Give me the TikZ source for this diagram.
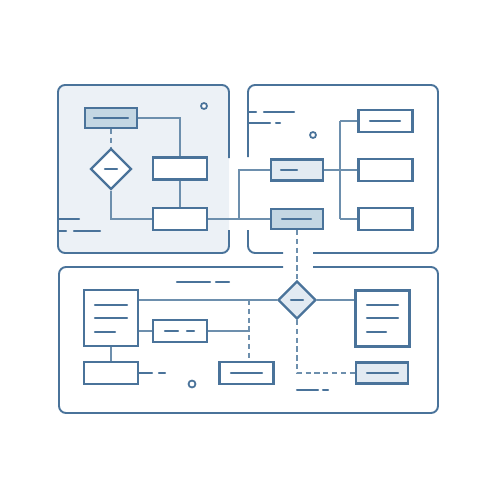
\documentclass[tikz,border=0pt]{standalone}
\usetikzlibrary{shapes.geometric}
\definecolor{ink}{HTML}{4A739A}
\definecolor{wire}{HTML}{6D8FAD}
\definecolor{deepfill}{HTML}{C4D7E3}
\definecolor{softfill}{HTML}{E2EAF2}
\definecolor{panelfill}{HTML}{ECF1F6}
\begin{document}
\begin{tikzpicture}[x=0.02cm,y=-0.02cm,
  frame/.style={draw=ink,line width=1.1pt,rounded corners=4pt},
  boxnode/.style={draw=ink,line width=1.3pt,fill=white,minimum width=1.08cm,minimum height=0.44cm,inner sep=0pt,anchor=center},
  deepbox/.style={boxnode,fill=deepfill},
  softbox/.style={boxnode,fill=softfill},
  docnode/.style={draw=ink,line width=1.3pt,fill=white,minimum width=1.08cm,minimum height=1.12cm,inner sep=0pt},
  choice/.style={diamond,draw=ink,line width=1.3pt,fill=white,minimum width=0.82cm,minimum height=0.82cm,inner sep=0pt},
  stroke/.style={draw=ink,line width=1.2pt,line cap=round},
  wireline/.style={draw=wire,line width=0.7pt},
  dashwire/.style={draw=wire,line width=0.7pt,dash pattern=on 3pt off 2pt},
  dot/.style={draw=ink,line width=1pt,fill=white}
]
\useasboundingbox (0,0) rectangle (500,500);

% ---- upper left panel ----
\fill[panelfill,rounded corners=4pt] (58,85) rectangle (229,253);
\draw[frame] (229,158) -- (229,85) -- (58,85) -- (58,253) -- (229,253) -- (229,230);
\draw[stroke] (59,219) -- (79,219);
\draw[stroke] (59,231) -- (66,231) (74,231) -- (100,231);
\draw[dot] (204,106) circle (3);

\node[deepbox,minimum width=1.04cm,minimum height=0.40cm] (a1) at (111,118) {};
\node[choice] (a2) at (111,169) {};
\node[boxnode] (a3) at (180,168.5) {};
\node[boxnode] (a4) at (180,219) {};
\draw[stroke] (94,118) -- (128,118);
\draw[stroke] (105,169) -- (117,169);

% ---- upper right panel ----
\draw[frame] (248,157) -- (248,85) -- (438,85) -- (438,253) -- (313,253)
             (283,253) -- (248,253) -- (248,230);
\draw[stroke] (249,112) -- (256,112) (264,112) -- (294,112);
\draw[stroke] (249,123) -- (270,123) (276,123) -- (280,123);
\draw[dot] (313,135) circle (3);

\node[softbox,minimum width=1.04cm,minimum height=0.42cm] (b1) at (297,170) {};
\node[deepbox,minimum width=1.04cm,minimum height=0.40cm] (b2) at (297,219) {};
\node[boxnode] (b3) at (385.5,121) {};
\node[boxnode] (b4) at (385.5,170) {};
\node[boxnode] (b5) at (385.5,219) {};
\draw[stroke] (281,170) -- (297,170);
\draw[stroke] (282,219) -- (311,219);
\draw[stroke] (370,121) -- (400,121);

% ---- lower panel ----
\draw[frame] (283,267) -- (59,267) -- (59,413) -- (438,413) -- (438,267) -- (313,267);
\draw[stroke] (177,282) -- (210,282) (216,282) -- (229,282);
\draw[stroke] (297,390) -- (318,390) (323,390) -- (328,390);
\draw[dot] (192,384) circle (3.5);

\node[docnode] (c1) at (111,318) {};
\node[boxnode] (c2) at (180,331) {};
\node[boxnode] (c3) at (111,373) {};
\node[boxnode] (c4) at (246.5,373) {};
\node[choice,fill=softfill,minimum width=0.76cm,minimum height=0.76cm] (c5) at (297,300) {};
\node[docnode] (c6) at (382.5,318.5) {};
\node[softbox,minimum width=1.04cm,minimum height=0.42cm] (c7) at (382,373) {};

\foreach \y/\r in {305/127,318/127,332/115}
  \draw[stroke] (95,\y) -- (\r,\y);
\foreach \y/\r in {305/398,318/398,332/386}
  \draw[stroke] (367,\y) -- (\r,\y);
\draw[stroke] (165,331) -- (178,331) (187,331) -- (194,331);
\draw[stroke] (231,373) -- (262,373);
\draw[stroke] (291,300) -- (303,300);
\draw[stroke] (367,373) -- (398,373);
\draw[stroke] (139,373) -- (152,373) (159,373) -- (165,373);

% ---- connectors ----
\coordinate (j1) at (180,118);
\coordinate (j2) at (111,219);
\coordinate (j3) at (239,219);
\coordinate (j4) at (239,170);
\coordinate (j5) at (340,170);
\coordinate (j6) at (249,300);
\coordinate (j7) at (249,331);
\coordinate (j8) at (297,373);

\draw[dashwire] (a1.south) -- (a2.north);
\draw[wireline] (a1.east) -- (j1) -- (a3.north);
\draw[wireline] (a3.south) -- (a4.north);
\draw[wireline] (a2.south) -- (j2) -- (a4.west);
\draw[wireline] (a4.east) -- (b2.west);
\draw[wireline] (j3) -- (j4) -- (b1.west);
\draw[wireline] (b1.east) -- (j5);
\draw[wireline] (j5 |- b3.west) -- (j5 |- b5.west);
\draw[wireline] (j5 |- b3.west) -- (b3.west);
\draw[wireline] (j5) -- (b4.west);
\draw[wireline] (j5 |- b5.west) -- (b5.west);
\draw[dashwire] (b2.south) -- (c5.north);

\draw[wireline] (c1.east |- j6) -- (c5.west);
\draw[wireline] (c5.east) -- (c6.west |- c5.east);
\draw[wireline] (c1.east |- c2.west) -- (c2.west);
\draw[wireline] (c2.east) -- (j7);
\draw[dashwire] (j6) -- (j6 |- c4.north);
\draw[wireline] (c1.south) -- (c3.north);
\draw[dashwire] (c5.south) -- (j8) -- (c7.west);
\end{tikzpicture}
\end{document}
